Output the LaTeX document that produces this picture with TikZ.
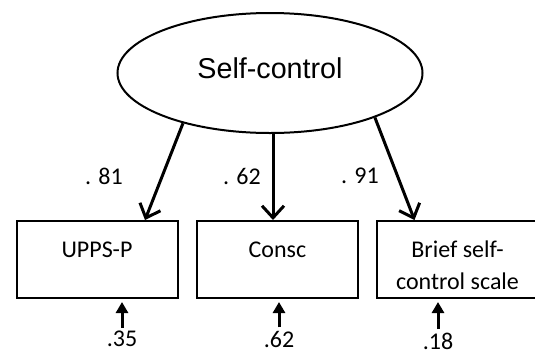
\documentclass[tikz,border=0pt]{standalone}
\usepackage{fontspec}
\setmainfont{Carlito}
\newfontfamily\arialfont{Liberation Sans}
\usetikzlibrary{arrows.meta,shapes.geometric}
\newcommand{\topstrut}{\rule{0pt}{28pt}}

\begin{document}
\begin{tikzpicture}[x = 1pt, y = -1pt,
                        latent/.style = {ellipse, draw, line width = 2pt, minimum width = 305pt, minimum height = 120pt, inner sep = 0pt, font = \arialfont\fontsize{28.7}{32}\selectfont},
                        observed/.style = {rectangle, draw, line width = 2pt, minimum width = 161pt, minimum height = 77pt, inner sep = 0pt, align = center, font = \fontsize{24}{32}\selectfont},
                        coef/.style = {font = \fontsize{24}{28}\selectfont},
                        loading/.style = {line width = 3pt, -{Straight Barb[length = 12pt, width = 22pt]}},
                        error/.style = {line width = 3pt, shorten > = 3pt, -{Triangle[length = 11pt, width = 12pt]}}]
      \useasboundingbox (0, 0) rectangle (535, 354);
      \node [latent] (sc) at (270, 73){\raisebox{10pt}{Self-control}};
      \node [observed] (upps) at (97, 259.5){\topstrut UPPS-P\\\mbox{}};
      \node [observed] (consc) at (277.5, 259.5){\topstrut Consc\\\mbox{}};
      \node [observed] (brief) at (457.5, 259.5){\topstrut Brief self-\\control scale};
      \draw [loading] (sc.210) -- ([xshift = 48pt]upps.north);
      \draw [loading] ([xshift = 3pt]sc.south) -- ([xshift = 3pt]sc.south |- consc.north);
      \draw [loading] (sc.-23) -- ([xshift = -43pt]brief.north);
      \node [coef] (l1) at (104, 176){. 81};
      \node [coef] (l2) at (242, 176){. 62};
      \node [coef] (l3) at (360, 176){. 91};
      \node [coef] (r1) at (122, 339){.35};
      \node [coef] (r2) at (279, 339){.62};
      \node [coef] (r3) at (438, 341){.18};
      \draw [error] (r1) -- (r1 |- upps.south);
      \draw [error] (r2) -- (r2 |- consc.south);
      \draw [error] (r3) -- (r3 |- brief.south);
    \end{tikzpicture}
\end{document}
